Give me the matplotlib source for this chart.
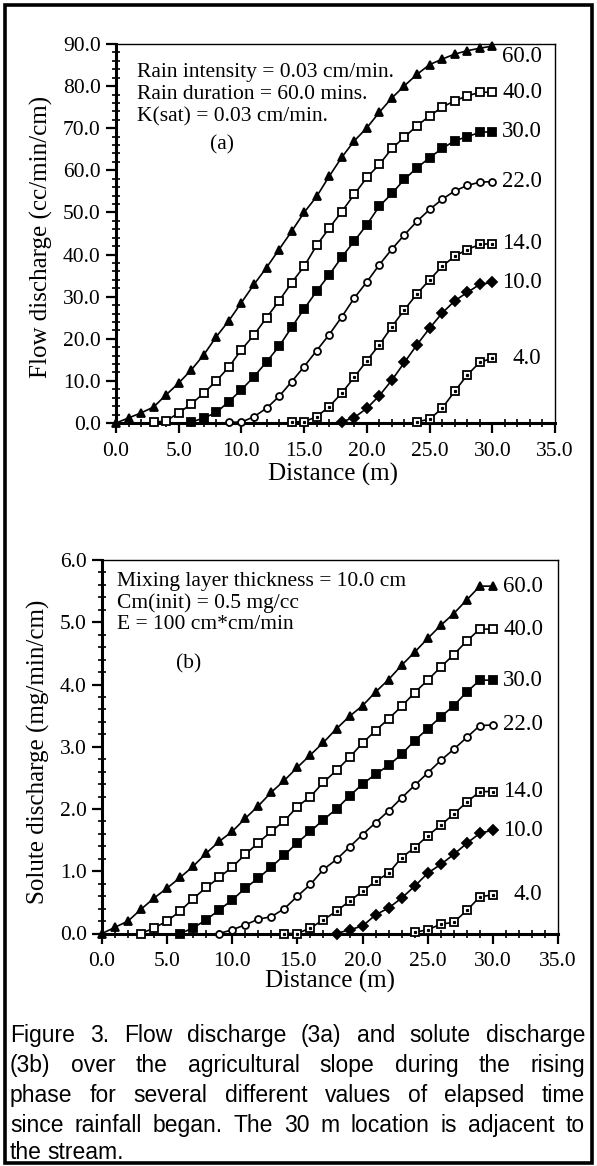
import matplotlib
matplotlib.use("Agg")
import matplotlib.pyplot as plt
import numpy as np
from matplotlib.ticker import MultipleLocator, FormatStrFormatter
from matplotlib.patches import Rectangle

# elapsed time (min) of each curve, and distance of the first marker (m)
times = ["60.0", "40.0", "30.0", "22.0", "14.0", "10.0", "4.0"]
starts = [0, 3, 6, 9, 14, 18, 24]

# (a) flow discharge, cc/min/cm, one value per metre from start to 30 m
q60 = [0, 1.2, 2.4, 3.8, 6.7, 9.5, 12.6, 16.2, 20.5, 24.3, 28.6, 32.9, 36.9, 41.2, 45.5, 50.0,
       53.8, 58.6, 63.1, 67.0, 70.1, 73.8, 77.2, 80.1, 82.8, 85.1, 86.4, 87.6, 88.4, 89.0, 89.5]
q40 = [0.2, 0.5, 2.4, 4.5, 7.1, 10.0, 13.3, 17.4, 20.9, 25.0, 29.0, 33.3, 37.2, 42.2, 46.3,
       50.2, 54.3, 58.3, 61.4, 65.2, 67.9, 70.6, 72.9, 75.0, 76.5, 77.7, 78.5, 78.6]
q30 = [0.2, 1.2, 2.5, 5.1, 7.9, 11.0, 14.5, 18.2, 22.7, 27.1, 31.3, 35.2, 39.4, 43.2, 47.1,
       51.5, 54.5, 57.9, 60.6, 63.0, 65.2, 67.0, 68.0, 69.0, 69.2]
q22 = [0.2, 0.2, 1.5, 3.5, 6.3, 9.8, 13.4, 17.2, 21.0, 25.2, 29.7, 33.5, 37.6, 41.3, 44.7,
       47.9, 50.7, 53.1, 55.1, 56.4, 57.2, 57.3]
q14 = [0.3, 0.3, 1.5, 3.9, 7.1, 10.9, 14.8, 18.6, 22.9, 26.9, 30.7, 34.0, 37.2, 39.6, 41.2, 42.4, 42.6]
q10 = [0.3, 1.3, 3.5, 6.5, 10.2, 14.4, 18.6, 22.5, 26.1, 29.0, 31.0, 32.9, 33.4]
q4 = [0.3, 0.9, 3.5, 7.5, 11.4, 14.4, 15.4]

# (b) solute discharge, mg/min/cm
s60 = [0, 0.1, 0.2, 0.39, 0.57, 0.73, 0.9, 1.08, 1.29, 1.48, 1.64, 1.85, 2.05, 2.27, 2.46, 2.67,
       2.87, 3.07, 3.29, 3.49, 3.66, 3.88, 4.08, 4.31, 4.52, 4.74, 4.95, 5.14, 5.36, 5.58, 5.58]
s40 = [0.0, 0.09, 0.2, 0.36, 0.56, 0.74, 0.9, 1.07, 1.27, 1.46, 1.64, 1.81, 2.04, 2.2, 2.43,
       2.62, 2.83, 3.06, 3.26, 3.45, 3.65, 3.87, 4.07, 4.28, 4.48, 4.7, 4.89, 4.89]
s30 = [0.0, 0.09, 0.22, 0.38, 0.54, 0.73, 0.89, 1.07, 1.26, 1.46, 1.64, 1.83, 2.0, 2.21, 2.4,
       2.56, 2.7, 2.88, 3.1, 3.29, 3.48, 3.66, 3.88, 4.07, 4.07]
s22 = [0.0, 0.06, 0.14, 0.23, 0.27, 0.4, 0.6, 0.79, 1.03, 1.19, 1.39, 1.59, 1.78, 1.97, 2.18,
       2.38, 2.58, 2.78, 2.96, 3.15, 3.34, 3.35]
s14 = [0.0, 0.0, 0.09, 0.22, 0.36, 0.52, 0.68, 0.84, 0.97, 1.22, 1.38, 1.57, 1.74, 1.92, 2.11, 2.28, 2.28]
s10 = [0.0, 0.06, 0.12, 0.3, 0.41, 0.57, 0.76, 0.97, 1.11, 1.27, 1.45, 1.61, 1.66]
s4 = [0.02, 0.06, 0.15, 0.18, 0.37, 0.59, 0.62]

flow = [q60, q40, q30, q22, q14, q10, q4]
solute = [s60, s40, s30, s22, s14, s10, s4]

notes_a = ["Rain intensity = 0.03 cm/min.", "Rain duration = 60.0 mins.", "K(sat) = 0.03 cm/min."]
notes_b = ["Mixing layer thickness = 10.0 cm", "Cm(init) = 0.5 mg/cc", "E = 100 cm*cm/min"]

caption = ["Figure 3. Flow discharge (3a) and solute discharge",
           "(3b) over the agricultural slope during the rising",
           "phase for several different values of elapsed time",
           "since rainfall began. The 30 m location is adjacent to",
           "the stream."]

# marker styles: (marker, face, dotted centre)
styles = [("^", "black", False), ("s", "white", False), ("s", "black", False),
          ("o", "white", False), ("s", "white", True), ("D", "black", False), ("s", "white", True)]

W, H = 597, 1166
fig = plt.figure(figsize=(W / 100, H / 100), dpi=100)
serif = "Liberation Serif"
fs_tick = 15.5
fs_note = 15.5
fs_curve = 16.5
fs_label = 18


def px(x, y):
    return x / W, 1 - y / H


def draw(ax, series, ymax, ymaj, ymin, lab_off):
    for (mk, fc, dot), st, vals, name, off in zip(styles, starts, series, times, lab_off):
        d = np.arange(st, st + len(vals))
        ms = 5.0 if mk in ("o", "D") else 5.8
        ax.plot(d, vals, color="black", lw=1.2, marker=mk, ms=ms, mfc=fc, mec="black",
                mew=1.3, clip_on=False, zorder=3)
        if dot:
            ax.plot(d, vals, ls="none", marker="s", ms=1.3, mfc="black", mec="black",
                    clip_on=False, zorder=4)
        lx = 31.6 if name == "4.0" else 30.8
        ax.text(lx, vals[-1] + off, name, family=serif, fontsize=fs_curve, va="center", ha="left")
    ax.set_xlim(0, 35)
    ax.set_ylim(0, ymax)
    ax.xaxis.set_major_locator(MultipleLocator(5))
    ax.xaxis.set_minor_locator(MultipleLocator(1))
    ax.yaxis.set_major_locator(MultipleLocator(ymaj))
    ax.yaxis.set_minor_locator(MultipleLocator(ymin))
    ax.xaxis.set_major_formatter(FormatStrFormatter("%.1f"))
    ax.yaxis.set_major_formatter(FormatStrFormatter("%.1f"))
    ax.tick_params(which="major", direction="out", length=7, width=1.6, pad=4, labelsize=fs_tick)
    ax.tick_params(axis="x", which="major", pad=6.5)
    ax.tick_params(which="minor", direction="inout", length=6, width=1.2)
    for lbl in ax.get_xticklabels() + ax.get_yticklabels():
        lbl.set_family(serif)
    ax.spines["left"].set_linewidth(2.2)
    ax.spines["bottom"].set_linewidth(2.2)
    ax.spines["top"].set_linewidth(1.0)
    ax.spines["right"].set_linewidth(1.0)


# (a)
l, r, t, b = 116, 555, 44, 423
ax1 = fig.add_axes([l / W, 1 - b / H, (r - l) / W, (b - t) / H])
draw(ax1, flow, 90, 10, 2, [-2.4, 0, 0, 0, 0, 0, 0])
for i, s in enumerate(notes_a):
    ax1.text(0.048, 0.924 - i * 0.058, s, transform=ax1.transAxes, family=serif, fontsize=fs_note, va="center")
ax1.text(0.241, 0.733, "(a)", transform=ax1.transAxes, family=serif, fontsize=fs_note, ha="center", va="center")
fig.text(*px(333, 474), "Distance (m)", family=serif, fontsize=fs_label, ha="center", va="center")
fig.text(*px(41, 237), "Flow discharge (cc/min/cm)", family=serif, fontsize=fs_label,
         ha="center", va="center", rotation=90)

# (b)
l, r, t, b = 102, 558, 560, 933.5
ax2 = fig.add_axes([l / W, 1 - b / H, (r - l) / W, (b - t) / H])
draw(ax2, solute, 6, 1, 0.2, [0, 0, 0, 0, 0, 0, 0])
for i, s in enumerate(notes_b):
    ax2.text(0.032, 0.942 - i * 0.058, s, transform=ax2.transAxes, family=serif, fontsize=fs_note, va="center")
ax2.text(0.189, 0.723, "(b)", transform=ax2.transAxes, family=serif, fontsize=fs_note, ha="center", va="center")
fig.text(*px(330, 981), "Distance (m)", family=serif, fontsize=fs_label, ha="center", va="center")
fig.text(*px(38, 752), "Solute discharge (mg/min/cm)", family=serif, fontsize=fs_label,
         ha="center", va="center", rotation=90)

# outer frame
fig.add_artist(Rectangle(px(5, 1163), 587 / W, 1158 / H, transform=fig.transFigure,
                         fill=False, lw=2.6, ec="black"))

# justified caption, word by word on a common baseline
x0, x1 = 10, 585
line_y = [1042, 1072, 1102, 1132, 1159]
renderer = fig.canvas.get_renderer()
for k, (line, yy) in enumerate(zip(caption, line_y)):
    words = line.split()
    txts = [fig.text(0, 1 - yy / H, w, family="Liberation Sans", fontsize=16.5, va="baseline")
            for w in words]
    widths = [tt.get_window_extent(renderer).width for tt in txts]
    if k < len(caption) - 1 and len(words) > 1:
        gap = max((x1 - x0 - sum(widths)) / (len(words) - 1), 3)
    else:
        gap = 5
    x = x0
    for tt, w in zip(txts, widths):
        tt.set_x(x / W)
        x += w + gap

fig.savefig("out.png", dpi=100)
